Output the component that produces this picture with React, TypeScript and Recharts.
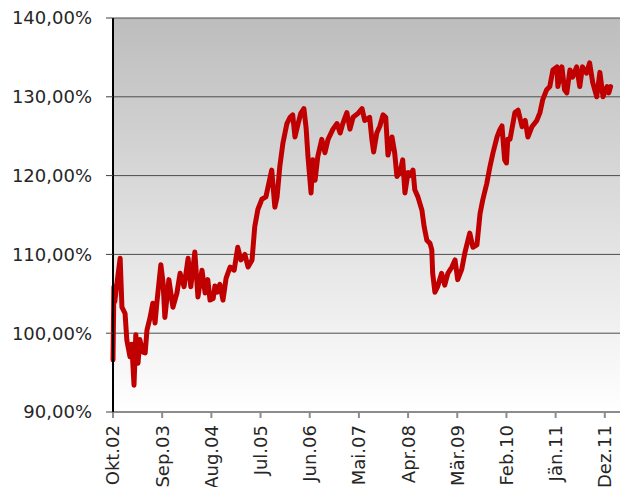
import { CartesianGrid, Line, LineChart, XAxis, YAxis } from "recharts";

// months since Okt.02
const MONTHS = [
  0, 0.2, 0.4, 0.9, 1.6, 2.0, 2.7, 3.1, 3.8, 4.2, 4.7, 5.1, 5.6, 6.0, 6.7, 7.2, 7.6, 8.3, 8.9, 9.4,
  9.8, 10.7, 11.2, 11.6, 12.5, 13.4, 14.3, 15.0, 15.9, 16.8, 17.4, 18.3, 19.0, 19.9, 20.6, 21.2, 21.7,
  22.4, 22.8, 23.3, 23.9, 24.6, 25.3, 26.2, 27.1, 27.9, 28.6, 29.5, 30.2, 31.1, 31.7, 32.4, 33.3, 34.2,
  35.5, 36.2, 36.7, 37.3, 38.0, 38.9, 39.6, 40.2, 40.7, 41.4, 42.0, 42.7, 43.2, 43.6, 44.3, 44.7, 45.2,
  45.8, 46.7, 47.4, 48.1, 49.2, 50.1, 50.8, 51.4, 52.3, 53.0, 53.7, 54.8, 55.7, 56.3, 57.4, 57.9, 58.3,
  59.0, 59.7, 60.4, 61.0, 61.5, 62.4, 63.0, 63.5, 64.2, 64.8, 65.3, 66.0, 66.4, 67.1, 67.5, 68.2, 69.1,
  69.6, 70.2, 70.9, 71.3, 71.5, 72.0, 72.6, 73.5, 74.2, 74.9, 75.8, 76.5, 77.1, 78.0, 78.7, 79.4, 79.8,
  80.5, 81.4, 82.1, 82.7, 83.6, 84.3, 85.0, 85.9, 86.5, 87.0, 87.6, 88.0, 88.3, 88.8, 89.9, 90.6, 91.5,
  92.2, 92.8, 93.7, 94.8, 95.5, 96.1, 97.0, 97.7, 98.4, 99.3, 99.5, 100.4, 101.0, 101.5, 102.2, 102.8,
  103.7, 104.4, 105.0, 105.9, 106.6, 107.3, 108.2, 108.9, 109.6, 110.5, 110.9, 111.3,
];

const VALUES = [
  96.6, 105.9, 104.0, 106.4, 109.5, 103.3, 102.5, 99.1, 97.0, 98.6, 93.4, 99.8, 96.2, 99.2, 97.6, 97.5,
  100.4, 102.0, 103.8, 101.3, 103.8, 108.7, 106.4, 102.0, 106.8, 103.3, 105.1, 107.6, 105.9, 109.5,
  105.9, 110.3, 104.6, 108.0, 105.1, 106.8, 104.2, 104.4, 106.0, 105.2, 106.2, 104.2, 107.0, 108.4,
  108.0, 110.9, 109.3, 110.0, 108.4, 109.3, 113.5, 115.7, 117.0, 117.3, 120.7, 116.0, 117.3, 121.1,
  124.1, 126.6, 127.4, 127.7, 124.9, 126.6, 127.9, 128.5, 126.0, 122.5, 117.8, 122.0, 119.4, 122.4,
  124.6, 122.9, 124.6, 125.9, 126.6, 125.4, 126.6, 128.0, 125.9, 127.4, 127.9, 128.5, 127.0, 127.4,
  124.6, 123.0, 125.4, 126.3, 127.7, 127.4, 122.6, 124.9, 122.9, 119.9, 120.4, 122.0, 117.8, 120.4,
  120.0, 120.7, 118.2, 117.3, 115.6, 113.5, 111.8, 111.4, 110.6, 107.6, 105.2, 105.9, 107.6, 106.1,
  107.6, 108.4, 109.3, 106.8, 108.1, 110.2, 111.8, 112.7, 110.9, 111.2, 115.2, 116.9, 119.0, 121.1,
  122.9, 124.9, 125.8, 126.3, 122.0, 121.6, 124.6, 124.6, 128.0, 128.3, 126.2, 127.0, 124.9, 126.2,
  127.0, 128.0, 129.6, 130.9, 131.3, 133.4, 133.8, 131.3, 133.8, 130.9, 130.5, 133.4, 132.5, 133.8,
  131.3, 133.8, 133.0, 134.3, 131.8, 130.0, 133.1, 130.0, 131.3, 130.5, 131.3,
];

const TICK_MONTHS = [0, 11, 22, 33, 44, 55, 66, 77, 88, 99, 110];
const TICK_LABELS = ["Okt.02", "Sep.03", "Aug.04", "Jul.05", "Jun.06", "Mai.07", "Apr.08", "Mär.09", "Feb.10", "Jän.11", "Dez.11"];
const Y_TICKS = [90, 100, 110, 120, 130, 140];

const data = MONTHS.map((m, i) => ({ m, v: VALUES[i] }));

const FONT = "'DejaVu Sans', Verdana, sans-serif";

function XTick({ x, y, payload }: any) {
  const idx = TICK_MONTHS.indexOf(payload.value);
  const ty = y + 5;
  return (
    <text
      x={x}
      y={ty}
      transform={`rotate(-90, ${x}, ${ty})`}
      textAnchor="end"
      dy="0.36em"
      fontFamily={FONT}
      fontSize={18}
      fill="#262626"
    >
      {TICK_LABELS[idx]}
    </text>
  );
}

export default function App() {
  return (
    <div style={{ position: "absolute", left: 0, top: 0, background: "#fff" }}>
      <LineChart width={620} height={487} data={data} margin={{ top: 18, right: 0, bottom: 0, left: 0 }}>
        <defs>
          <linearGradient id="bg" x1="0" y1="0" x2="0" y2="1">
            <stop offset="0%" stopColor="#bdbdbd" />
            <stop offset="100%" stopColor="#ffffff" />
          </linearGradient>
        </defs>
        <CartesianGrid vertical={false} stroke="#4d4d4d" strokeWidth={1} fill="url(#bg)" fillOpacity={1} />
        <XAxis
          dataKey="m"
          type="number"
          domain={[0, 113.4]}
          ticks={TICK_MONTHS}
          interval={0}
          height={75}
          tick={<XTick />}
          tickSize={6}
          axisLine={{ stroke: "#8c8c8c", strokeWidth: 2 }}
          tickLine={{ stroke: "#8c8c8c", strokeWidth: 2 }}
        />
        <YAxis
          type="number"
          domain={[90, 140]}
          ticks={Y_TICKS}
          interval={0}
          width={113}
          tickSize={7}
          tickMargin={14}
          tickFormatter={(v: number) => `${v},00%`}
          tick={{ fontFamily: FONT, fontSize: 18, fill: "#262626" }}
          axisLine={{ stroke: "#000", strokeWidth: 2 }}
          tickLine={{ stroke: "#404040" }}
        />
        <Line
          dataKey="v"
          type="linear"
          stroke="#c00000"
          strokeWidth={5}
          strokeLinejoin="round"
          strokeLinecap="round"
          dot={false}
          isAnimationActive={false}
        />
      </LineChart>
    </div>
  );
}
